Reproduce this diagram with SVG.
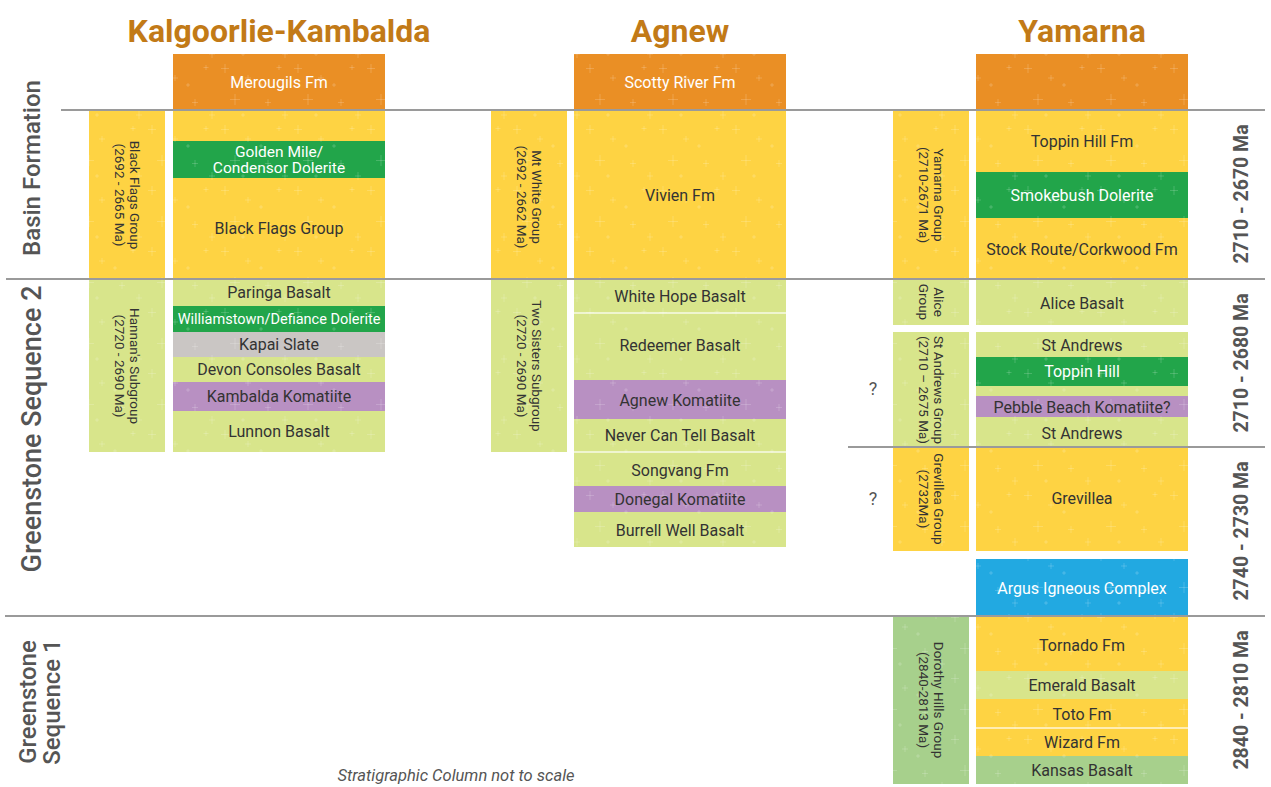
<svg xmlns="http://www.w3.org/2000/svg" width="1271" height="787" viewBox="0 0 1271 787">
<defs>
<pattern id="tex" width="73" height="61" patternUnits="userSpaceOnUse">
<path d="M6 3v9M2 7.5h8M29 14v6M26 17h6M16 33v11M11 38.5h10M49 38v7M46 41.5h6M60 4v5M57.5 6.5h5M42 22v4M40 24h4M66 50v8M63 54h6M24 52v4M22 54h4" stroke="#fff" stroke-opacity="0.22" stroke-width="0.8" fill="none"/>
</pattern>
<style>
text{font-family:Roboto,"Liberation Sans",sans-serif}
.t{font-size:32px;font-weight:700;fill:#C27A17;text-anchor:middle}
.o{fill:#EA8F25}.y{fill:#FED343}.g{fill:#22A54A}.l{fill:#D8E58B}.p{fill:#B890C2}.s{fill:#CAC6C4}.b{fill:#22A9E1}.d{fill:#A7D08C}
.tx{fill:url(#tex)}
.m{font-size:16px;fill:#333;text-anchor:middle;dominant-baseline:central}
.w{fill:#fff}
.sd{font-size:13.5px;fill:#333;text-anchor:middle}
.sec{font-size:24px;font-weight:500;fill:#555;text-anchor:middle}
.age{font-size:19.5px;font-weight:700;fill:#555;text-anchor:middle;dominant-baseline:central}
.q{font-size:18px;fill:#555;text-anchor:middle;dominant-baseline:central}
.div{stroke:#9A9A9A;stroke-width:2}
.sep{stroke:#fff;stroke-opacity:0.6;stroke-width:2}
</style>
</defs>
<rect width="1271" height="787" fill="#fff"/>

<g id="titles">
<text class="t" x="279" y="42">Kalgoorlie-Kambalda</text>
<text class="t" x="680" y="42">Agnew</text>
<text class="t" x="1082" y="42">Yamarna</text>
</g>

<g id="sections">
<text class="sec" transform="translate(40,168) rotate(-90)">Basin Formation</text>
<text class="sec" style="font-size:27px" transform="translate(41,429) rotate(-90)">Greenstone Sequence 2</text>
<text class="sec" transform="translate(36,702) rotate(-90)">Greenstone</text>
<text class="sec" transform="translate(60,702) rotate(-90)">Sequence 1</text>
</g>

<!-- Kalgoorlie-Kambalda -->
<g id="kk-blackflags-side"><rect class="y" x="89" y="110" width="76" height="169"/><rect class="tx" x="89" y="110" width="76" height="169"/>
<text class="sd" transform="translate(130,195) rotate(90)">Black Flags Group</text>
<text class="sd" transform="translate(115,195) rotate(90)">(2692 - 2665 Ma)</text></g>
<g id="kk-hannans-side"><rect class="l" x="89" y="279" width="76" height="173"/><rect class="tx" x="89" y="279" width="76" height="173"/>
<text class="sd" transform="translate(130,366) rotate(90)">Hannan's Subgroup</text>
<text class="sd" transform="translate(115,366) rotate(90)">(2720 - 2690 Ma)</text></g>
<g id="kk-merougils"><rect class="o" x="173" y="54" width="212" height="56"/><rect class="tx" x="173" y="54" width="212" height="56"/><text class="m w" x="279" y="82">Merougils  Fm</text></g>
<g id="kk-blackflags"><rect class="y" x="173" y="110" width="212" height="169"/><rect class="tx" x="173" y="110" width="212" height="169"/><text class="m" x="279" y="228">Black Flags Group</text></g>
<g id="kk-goldenmile"><rect class="g" x="173" y="141" width="212" height="37"/><rect class="tx" x="173" y="141" width="212" height="37"/><text class="m w" x="279" y="151.5" style="font-size:15.5px">Golden Mile/</text><text class="m w" x="279" y="167.5" style="font-size:15.5px">Condensor Dolerite</text></g>
<g id="kk-paringa"><rect class="l" x="173" y="279" width="212" height="27"/><rect class="tx" x="173" y="279" width="212" height="27"/><text class="m" x="279" y="292.5">Paringa Basalt</text></g>
<g id="kk-williamstown"><rect class="g" x="173" y="306" width="212" height="26"/><rect class="tx" x="173" y="306" width="212" height="26"/><text class="m w" x="279" y="319.5" style="font-size:14.5px">Williamstown/Defiance Dolerite</text></g>
<g id="kk-kapai"><rect class="s" x="173" y="332" width="212" height="25"/><rect class="tx" x="173" y="332" width="212" height="25"/><text class="m" x="279" y="344">Kapai Slate</text></g>
<g id="kk-devon"><rect class="l" x="173" y="357" width="212" height="25"/><rect class="tx" x="173" y="357" width="212" height="25"/><text class="m" x="279" y="369">Devon Consoles Basalt</text></g>
<g id="kk-kambalda"><rect class="p" x="173" y="382" width="212" height="29"/><rect class="tx" x="173" y="382" width="212" height="29"/><text class="m" x="279" y="396.5">Kambalda Komatiite</text></g>
<g id="kk-lunnon"><rect class="l" x="173" y="411" width="212" height="41"/><rect class="tx" x="173" y="411" width="212" height="41"/><text class="m" x="279" y="431">Lunnon Basalt</text></g>

<!-- Agnew -->
<g id="ag-mtwhite-side"><rect class="y" x="491" y="110" width="76" height="169"/><rect class="tx" x="491" y="110" width="76" height="169"/>
<text class="sd" transform="translate(532,197) rotate(90)">Mt White Group</text>
<text class="sd" transform="translate(517,197) rotate(90)">(2692 - 2662 Ma)</text></g>
<g id="ag-twosisters-side"><rect class="l" x="491" y="279" width="76" height="173"/><rect class="tx" x="491" y="279" width="76" height="173"/>
<text class="sd" transform="translate(532,366) rotate(90)">Two Sisters Subgroup</text>
<text class="sd" transform="translate(517,366) rotate(90)">(2720 - 2690 Ma)</text></g>
<g id="ag-scotty"><rect class="o" x="574" y="54" width="212" height="56"/><rect class="tx" x="574" y="54" width="212" height="56"/><text class="m w" x="680" y="82">Scotty River Fm</text></g>
<g id="ag-vivien"><rect class="y" x="574" y="110" width="212" height="169"/><rect class="tx" x="574" y="110" width="212" height="169"/><text class="m" x="680" y="195">Vivien Fm</text></g>
<g id="ag-whitehope"><rect class="l" x="574" y="279" width="212" height="34"/><rect class="tx" x="574" y="279" width="212" height="34"/><text class="m" x="680" y="296">White Hope Basalt</text></g>
<g id="ag-redeemer"><rect class="l" x="574" y="313" width="212" height="67"/><rect class="tx" x="574" y="313" width="212" height="67"/><text class="m" x="680" y="345.5">Redeemer Basalt</text></g>
<g id="ag-agnewkom"><rect class="p" x="574" y="380" width="212" height="39"/><rect class="tx" x="574" y="380" width="212" height="39"/><text class="m" x="680" y="400">Agnew Komatiite</text></g>
<g id="ag-nevercantell"><rect class="l" x="574" y="419" width="212" height="33"/><rect class="tx" x="574" y="419" width="212" height="33"/><text class="m" x="680" y="435.5">Never Can Tell Basalt</text></g>
<g id="ag-songvang"><rect class="l" x="574" y="452" width="212" height="34"/><rect class="tx" x="574" y="452" width="212" height="34"/><text class="m" x="680" y="470">Songvang Fm</text></g>
<g id="ag-donegal"><rect class="p" x="574" y="486" width="212" height="26"/><rect class="tx" x="574" y="486" width="212" height="26"/><text class="m" x="680" y="499">Donegal Komatiite</text></g>
<g id="ag-burrell"><rect class="l" x="574" y="512" width="212" height="35"/><rect class="tx" x="574" y="512" width="212" height="35"/><text class="m" x="680" y="530">Burrell Well Basalt</text></g>

<!-- Yamarna -->
<g id="ya-yamarna-side"><rect class="y" x="893" y="110" width="76" height="169"/><rect class="tx" x="893" y="110" width="76" height="169"/>
<text class="sd" transform="translate(934,195) rotate(90)">Yamarna  Group</text>
<text class="sd" transform="translate(919,195) rotate(90)">(2710-2671 Ma)</text></g>
<g id="ya-alice-side"><rect class="l" x="893" y="279" width="76" height="46"/><rect class="tx" x="893" y="279" width="76" height="46"/>
<text class="sd" transform="translate(934,302) rotate(90)">Alice</text>
<text class="sd" transform="translate(919,302) rotate(90)">Group</text></g>
<g id="ya-standrews-side"><rect class="l" x="893" y="332" width="76" height="115"/><rect class="tx" x="893" y="332" width="76" height="115"/>
<text class="sd" transform="translate(934,390) rotate(90)">St Andrews Group</text>
<text class="sd" transform="translate(919,390) rotate(90)">(2710 – 2675 Ma)</text></g>
<g id="ya-grevillea-side"><rect class="y" x="893" y="447" width="76" height="104"/><rect class="tx" x="893" y="447" width="76" height="104"/>
<text class="sd" transform="translate(934,499) rotate(90)">Grevillea Group</text>
<text class="sd" transform="translate(919,499) rotate(90)">(2732Ma)</text></g>
<g id="ya-dorothy-side"><rect class="d" x="893" y="616" width="76" height="168"/><rect class="tx" x="893" y="616" width="76" height="168"/>
<text class="sd" transform="translate(934,700) rotate(90)">Dorothy Hills Group</text>
<text class="sd" transform="translate(919,700) rotate(90)">(2840-2813 Ma)</text></g>
<g id="ya-top"><rect class="o" x="976" y="54" width="212" height="56"/><rect class="tx" x="976" y="54" width="212" height="56"/></g>
<g id="ya-toppinhillfm"><rect class="y" x="976" y="110" width="212" height="62"/><rect class="tx" x="976" y="110" width="212" height="62"/><text class="m" x="1082" y="141">Toppin Hill Fm</text></g>
<g id="ya-smokebush"><rect class="g" x="976" y="172" width="212" height="46"/><rect class="tx" x="976" y="172" width="212" height="46"/><text class="m w" x="1082" y="195">Smokebush Dolerite</text></g>
<g id="ya-stockroute"><rect class="y" x="976" y="218" width="212" height="61"/><rect class="tx" x="976" y="218" width="212" height="61"/><text class="m" x="1082" y="249">Stock Route/Corkwood Fm</text></g>
<g id="ya-alice"><rect class="l" x="976" y="279" width="212" height="46"/><rect class="tx" x="976" y="279" width="212" height="46"/><text class="m" x="1082" y="303">Alice Basalt</text></g>
<g id="ya-standrews1"><rect class="l" x="976" y="332" width="212" height="25"/><rect class="tx" x="976" y="332" width="212" height="25"/><text class="m" x="1082" y="345">St Andrews</text></g>
<g id="ya-toppinhill"><rect class="g" x="976" y="357" width="212" height="29"/><rect class="tx" x="976" y="357" width="212" height="29"/><text class="m w" x="1082" y="371">Toppin Hill</text></g>
<g id="ya-standrews2"><rect class="l" x="976" y="386" width="212" height="61"/><rect class="tx" x="976" y="386" width="212" height="61"/><text class="m" x="1082" y="433">St Andrews</text></g>
<g id="ya-pebble"><rect class="p" x="976" y="396" width="212" height="21"/><rect class="tx" x="976" y="396" width="212" height="21"/><text class="m" x="1082" y="407">Pebble Beach Komatiite?</text></g>
<g id="ya-grevillea"><rect class="y" x="976" y="447" width="212" height="104"/><rect class="tx" x="976" y="447" width="212" height="104"/><text class="m" x="1082" y="498">Grevillea</text></g>
<g id="ya-argus"><rect class="b" x="976" y="559" width="212" height="57"/><rect class="tx" x="976" y="559" width="212" height="57"/><text class="m w" x="1082" y="588">Argus Igneous Complex</text></g>
<g id="ya-tornado"><rect class="y" x="976" y="616" width="212" height="55"/><rect class="tx" x="976" y="616" width="212" height="55"/><text class="m" x="1082" y="645">Tornado Fm</text></g>
<g id="ya-emerald"><rect class="l" x="976" y="671" width="212" height="28"/><rect class="tx" x="976" y="671" width="212" height="28"/><text class="m" x="1082" y="685">Emerald Basalt</text></g>
<g id="ya-toto"><rect class="y" x="976" y="699" width="212" height="29"/><rect class="tx" x="976" y="699" width="212" height="29"/><text class="m" x="1082" y="714">Toto Fm</text></g>
<g id="ya-wizard"><rect class="y" x="976" y="728" width="212" height="28"/><rect class="tx" x="976" y="728" width="212" height="28"/><text class="m" x="1082" y="742">Wizard Fm</text></g>
<g id="ya-kansas"><rect class="d" x="976" y="756" width="212" height="28"/><rect class="tx" x="976" y="756" width="212" height="28"/><text class="m" x="1082" y="770">Kansas Basalt</text></g>

<g id="questions">
<text class="q" x="873" y="388">?</text>
<text class="q" x="873" y="498">?</text>
</g>

<g id="ages">
<text class="age" transform="translate(1241,194) rotate(-90)">2710 - 2670 Ma</text>
<text class="age" transform="translate(1241,363) rotate(-90)">2710 - 2680 Ma</text>
<text class="age" transform="translate(1241,531) rotate(-90)">2740 - 2730 Ma</text>
<text class="age" transform="translate(1241,700) rotate(-90)">2840 - 2810 Ma</text>
</g>

<g id="connectors">
<line class="sep" x1="574" y1="313" x2="786" y2="313"/>
<line class="sep" x1="574" y1="452" x2="786" y2="452"/>
<line class="sep" x1="976" y1="728" x2="1188" y2="728"/>
<line class="div" x1="61" y1="110" x2="1265" y2="110"/>
<line class="div" x1="6" y1="279" x2="1265" y2="279"/>
<line class="div" x1="848" y1="447" x2="1265" y2="447"/>
<line class="div" x1="5" y1="616" x2="1265" y2="616"/>
</g>

<text x="456" y="781" style="font-size:16.5px;font-style:italic;fill:#555;text-anchor:middle">Stratigraphic Column not to scale</text>
</svg>
